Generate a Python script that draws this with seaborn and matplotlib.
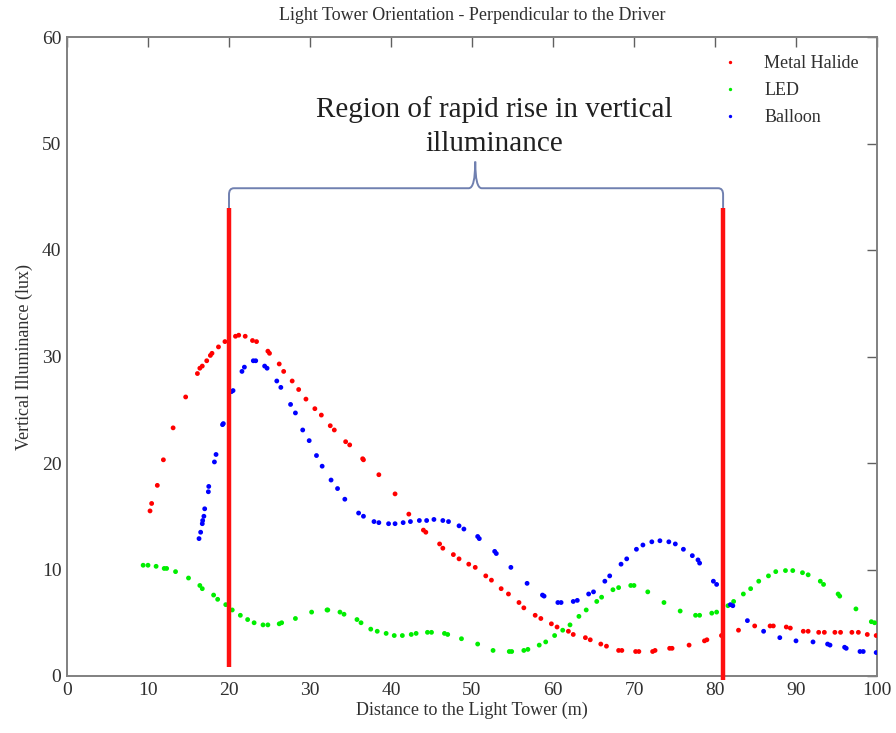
import numpy as np
import pandas as pd
import matplotlib
matplotlib.use("Agg")
import matplotlib.pyplot as plt
from matplotlib.path import Path
from matplotlib.patches import PathPatch
import seaborn as sns

# ---------------- data ----------------
mh_x = [10.25, 10.45, 11.15, 11.9, 13.1, 14.65, 16.1, 16.4, 16.7, 17.25, 17.7, 17.9, 18.7, 19.5,
        20.8, 21.2, 22.0, 22.9, 23.4, 24.8, 25.0, 26.2, 26.75, 27.8, 28.6, 29.5, 30.6, 31.4, 32.5,
        33.0, 34.4, 34.9, 36.5, 36.6, 38.5, 40.5, 42.2, 44.0, 44.3, 46.0, 46.4, 47.7, 48.4, 49.6,
        50.4, 51.7, 52.4, 53.6, 54.5, 55.8, 56.4, 57.8, 58.5, 59.8, 60.5, 61.9, 62.5, 64.0, 64.6,
        65.9, 66.6, 68.1, 68.5, 70.2, 70.6, 72.3, 72.6, 74.4, 74.7, 76.8, 78.7, 79.0, 80.8, 82.9,
        84.9, 86.8, 87.2, 88.8, 89.3, 90.9, 91.5, 92.8, 93.5, 94.8, 95.5, 96.9, 97.7, 98.8, 99.9]
mh_y = [15.5, 16.2, 17.9, 20.3, 23.3, 26.2, 28.4, 28.9, 29.1, 29.6, 30.1, 30.3, 30.9, 31.4,
        31.9, 32.0, 31.9, 31.5, 31.4, 30.5, 30.3, 29.3, 28.6, 27.7, 26.9, 26.0, 25.1, 24.5, 23.5,
        23.1, 22.0, 21.7, 20.4, 20.3, 18.9, 17.1, 15.2, 13.7, 13.5, 12.4, 12.0, 11.4, 11.0, 10.5,
        10.2, 9.4, 9.0, 8.2, 7.7, 6.9, 6.4, 5.7, 5.4, 4.9, 4.6, 4.2, 3.9, 3.6, 3.4,
        3.0, 2.8, 2.4, 2.4, 2.3, 2.3, 2.3, 2.4, 2.6, 2.6, 2.9, 3.3, 3.4, 3.8, 4.3,
        4.7, 4.7, 4.7, 4.6, 4.5, 4.2, 4.2, 4.1, 4.1, 4.1, 4.1, 4.1, 4.1, 3.9, 3.8]

led_x = [9.4, 10.0, 11.0, 12.0, 12.3, 13.4, 15.0, 16.4, 16.7, 18.1, 18.6, 19.6, 20.4, 21.4, 22.3,
         23.1, 24.2, 24.8, 26.2, 26.5, 28.2, 30.2, 32.1, 32.2, 33.7, 34.2, 35.8, 36.3, 37.5, 38.3,
         39.4, 40.4, 41.4, 42.5, 43.1, 44.5, 45.0, 46.6, 47.0, 48.7, 50.7, 52.6, 54.6, 54.9, 56.4,
         56.9, 58.3, 59.1, 60.2, 61.2, 62.1, 63.2, 64.1, 65.4, 66.0, 67.4, 68.1, 69.6, 70.0, 71.7,
         73.7, 75.7, 77.6, 78.1, 79.6, 80.2, 81.6, 82.3, 83.5, 84.4, 85.4, 86.6, 87.5, 88.7, 89.6,
         90.8, 91.5, 93.0, 93.4, 95.2, 95.4, 97.4, 99.3, 99.7]
led_y = [10.4, 10.4, 10.3, 10.1, 10.1, 9.8, 9.2, 8.5, 8.2, 7.6, 7.2, 6.7, 6.2, 5.7, 5.3,
         5.0, 4.8, 4.8, 4.9, 5.0, 5.4, 6.0, 6.2, 6.2, 6.0, 5.8, 5.3, 5.0, 4.4, 4.2,
         4.0, 3.8, 3.8, 3.9, 4.0, 4.1, 4.1, 4.0, 3.9, 3.5, 3.0, 2.4, 2.3, 2.3, 2.4,
         2.5, 2.9, 3.2, 3.8, 4.3, 4.8, 5.6, 6.2, 7.0, 7.4, 8.1, 8.3, 8.5, 8.5, 7.9,
         6.9, 6.1, 5.7, 5.7, 5.9, 6.0, 6.6, 7.0, 7.7, 8.2, 8.9, 9.4, 9.8, 9.9, 9.9,
         9.7, 9.5, 8.9, 8.6, 7.7, 7.5, 6.3, 5.1, 5.0]

bal_x = [16.3, 16.5, 16.7, 16.75, 16.9, 17.0, 17.45, 17.5, 18.2, 18.4, 19.2, 19.3, 20.3, 20.5,
         21.6, 21.9, 23.0, 23.3, 24.4, 24.7, 25.9, 26.4, 27.6, 28.2, 29.1, 29.9, 30.8, 31.5,
         32.6, 33.4, 34.3, 36.0, 36.6, 37.9, 38.5, 39.7, 40.5, 41.5, 42.4, 43.5, 44.4, 45.3,
         46.4, 47.1, 48.4, 49.0, 50.7, 50.9, 52.8, 53.0, 54.8, 56.8, 58.7, 58.9, 60.6, 61.0,
         62.5, 63.0, 64.4, 65.0, 66.4, 67.0, 68.4, 69.1, 70.3, 71.1, 72.2, 73.2, 74.3, 75.1,
         76.1, 77.2, 77.9, 78.1, 79.8, 80.2, 81.9, 82.2, 84.0, 86.0, 88.0, 90.0, 92.1, 93.9,
         94.2, 96.0, 96.2, 97.9, 98.3, 99.9]
bal_y = [12.9, 13.5, 14.3, 14.6, 15.0, 15.7, 17.3, 17.8, 20.1, 20.8, 23.6, 23.7, 26.7, 26.8,
         28.6, 29.0, 29.6, 29.6, 29.1, 28.9, 27.7, 27.1, 25.5, 24.7, 23.1, 22.1, 20.7, 19.7,
         18.4, 17.6, 16.6, 15.3, 15.0, 14.5, 14.4, 14.3, 14.3, 14.4, 14.5, 14.6, 14.6, 14.7,
         14.6, 14.5, 14.1, 13.8, 13.1, 12.9, 11.7, 11.5, 10.2, 8.7, 7.6, 7.5, 6.9, 6.9,
         7.0, 7.1, 7.7, 7.9, 8.9, 9.4, 10.5, 11.0, 11.9, 12.3, 12.6, 12.7, 12.6, 12.4,
         11.9, 11.3, 10.9, 10.6, 8.9, 8.6, 6.7, 6.6, 5.2, 4.2, 3.6, 3.3, 3.2, 3.0,
         2.9, 2.7, 2.6, 2.3, 2.3, 2.2]

series_names = ["Metal Halide", "LED", "Balloon"]
series_colors = ["#ff0000", "#00ee00", "#0000ff"]
region_start = 20.0
region_end = 81.0
x_ticks = [0, 10, 20, 30, 40, 50, 60, 70, 80, 90, 100]
y_ticks = [0, 10, 20, 30, 40, 50, 60]

df = pd.concat([
    pd.DataFrame({"x": mh_x, "y": mh_y, "series": series_names[0]}),
    pd.DataFrame({"x": led_x, "y": led_y, "series": series_names[1]}),
    pd.DataFrame({"x": bal_x, "y": bal_y, "series": series_names[2]}),
], ignore_index=True)

# ---------------- style ----------------
sns.set_theme(style="white")
plt.rcParams["font.family"] = ["Liberation Serif", "DejaVu Serif"]
plt.rcParams["text.color"] = "#303030"
plt.rcParams["axes.labelcolor"] = "#303030"
plt.rcParams["xtick.color"] = "#606060"
plt.rcParams["ytick.color"] = "#606060"
plt.rcParams["xtick.labelcolor"] = "#303030"
plt.rcParams["ytick.labelcolor"] = "#303030"

fig = plt.figure(figsize=(8.96, 7.33), dpi=100)
ax = fig.add_axes([67 / 896, 1 - 676 / 733, (877 - 67) / 896, (676 - 37) / 733])

sns.scatterplot(data=df, x="x", y="y", hue="series", hue_order=series_names,
                palette=series_colors, s=12, linewidth=0, marker="o", ax=ax, zorder=3)

ax.set_xlim(0, 100)
ax.set_ylim(0, 60)
ax.set_xticks(x_ticks)
ax.set_yticks(y_ticks)
ax.tick_params(direction="in", length=7, width=1.0, top=True, right=True,
               labelsize=14, pad=4)
for sp in ax.spines.values():
    sp.set_color("#808080")
    sp.set_linewidth(1.4)

ax.set_xlabel("Distance to the Light Tower (m)", fontsize=13, labelpad=2)
ax.set_ylabel("Vertical Illuminance (lux)", fontsize=13, labelpad=6)
ax.set_title("Light Tower Orientation - Perpendicular to the Driver", fontsize=13, pad=12)

# legend
handles, labels = ax.get_legend_handles_labels()
ax.legend(handles, labels, loc="upper right", bbox_to_anchor=(1.0, 1.0), frameon=False,
          fontsize=13, markerscale=0.7, handletextpad=0.9, labelspacing=0.55,
          borderaxespad=0.6)

# region lines
ax.vlines([region_start], 0.8, 43.9, colors="#ff1010", linewidth=3.2, zorder=5, clip_on=False)
ax.vlines([region_end], -0.4, 43.9, colors="#ff1010", linewidth=3.2, zorder=5, clip_on=False)

# brace
mid = 50.4
yb = 45.8
verts = [(region_start, 43.9), (region_start, 45.2),
         (region_start, yb), (region_start + 0.6, yb),
         (mid - 0.8, yb),
         (mid, yb), (mid, 48.3),
         (mid, yb), (mid + 0.8, yb),
         (region_end - 0.6, yb),
         (region_end, yb), (region_end, 45.2),
         (region_end, 43.9)]
codes = [Path.MOVETO, Path.LINETO,
         Path.CURVE3, Path.CURVE3,
         Path.LINETO,
         Path.CURVE3, Path.CURVE3,
         Path.CURVE3, Path.CURVE3,
         Path.LINETO,
         Path.CURVE3, Path.CURVE3,
         Path.LINETO]
ax.add_patch(PathPatch(Path(verts, codes), facecolor="none", edgecolor="#7080b0",
                       linewidth=1.4, zorder=4))

ax.text(52.8, 51.6, "Region of rapid rise in vertical\nilluminance", ha="center", va="center",
        fontsize=21, color="#202020", linespacing=1.4)

fig.savefig("out.png", dpi=100)
